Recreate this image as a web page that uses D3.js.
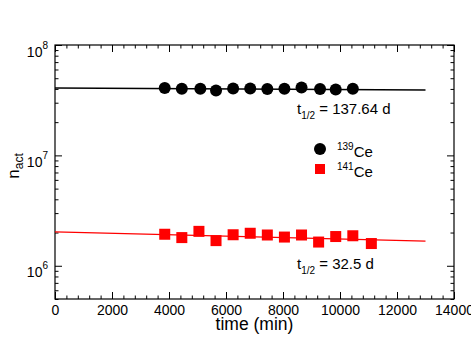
<!DOCTYPE html>
<html>
<head>
<meta charset="utf-8">
<title>Ce activity</title>
<script src="https://d3js.org/d3.v7.min.js"></script>
<style>
  body { margin: 0; background: #fff; }
  text { font-family: "Liberation Sans", Arial, sans-serif; fill: #000; }
</style>
</head>
<body>
<script>
// data
const ce139Time = [3850, 4450, 5100, 5650, 6250, 6850, 7450, 8050, 8650, 9300, 9850, 10450];
const ce139Act = [4.07e7, 4.01e7, 4.01e7, 3.88e7, 4.04e7, 4.04e7, 3.99e7, 4.01e7, 4.12e7, 3.99e7, 3.96e7, 4.01e7];
const ce141Time = [3850, 4450, 5050, 5650, 6250, 6850, 7450, 8050, 8650, 9250, 9850, 10450, 11100];
const ce141Act = [1.93e6, 1.80e6, 2.05e6, 1.69e6, 1.91e6, 1.97e6, 1.90e6, 1.82e6, 1.90e6, 1.64e6, 1.84e6, 1.87e6, 1.59e6];
// fitted decay lines (end points)
const fitTime = [0, 13000];
const fit139 = [4.08e7, 3.91e7];
const fit141 = [2.03e6, 1.67e6];
const xMajor = [0, 2000, 4000, 6000, 8000, 10000, 12000, 14000];
const yMajor = [1e6, 1e7, 1e8];

const W = 471, H = 354;
const pL = 55, pR = 454, pT = 45, pB = 299;

const svg = d3.select('body').append('svg')
  .attr('width', W).attr('height', H);

const x = d3.scaleLinear().domain([0, 14000]).range([pL, pR]);
const y = d3.scaleLog().domain([5e5, 1e8]).range([pB, pT]);

const xMinor = d3.range(0, 14001, 400).filter(v => v % 2000 !== 0);
const yMinor = [];
[1e5, 1e6, 1e7].forEach(d => { for (let k = 2; k <= 9; k++) { const v = k * d; if (v >= 5e5 && v < 1e8) yMinor.push(v); } });

function styleAxis(g) {
  g.select('.domain').remove();
  g.selectAll('line').attr('stroke', '#000').attr('stroke-width', 1);
}

// bottom axis
svg.append('g').attr('transform', `translate(0,${pB})`)
  .call(d3.axisBottom(x).tickValues(xMajor).tickSizeInner(-7).tickSizeOuter(0).tickPadding(6).tickFormat(d3.format('d')))
  .call(styleAxis)
  .call(g => g.selectAll('text').attr('font-size', 14).attr('font-family', '"Liberation Sans", Arial, sans-serif'));
svg.append('g').attr('transform', `translate(0,${pB})`)
  .call(d3.axisBottom(x).tickValues(xMinor).tickSizeInner(-3.5).tickSizeOuter(0).tickFormat(''))
  .call(styleAxis);
// top axis
svg.append('g').attr('transform', `translate(0,${pT})`)
  .call(d3.axisTop(x).tickValues(xMajor).tickSizeInner(-7).tickSizeOuter(0).tickFormat(''))
  .call(styleAxis);
svg.append('g').attr('transform', `translate(0,${pT})`)
  .call(d3.axisTop(x).tickValues(xMinor).tickSizeInner(-3.5).tickSizeOuter(0).tickFormat(''))
  .call(styleAxis);

// left axis
svg.append('g').attr('transform', `translate(${pL},0)`)
  .call(d3.axisLeft(y).tickValues(yMajor).tickSizeInner(-7).tickSizeOuter(0).tickPadding(7).tickFormat(d => d))
  .call(styleAxis)
  .call(g => g.selectAll('text').each(function (d) {
    const t = d3.select(this).text('').attr('font-size', 14).attr('dy', '0.8em')
      .attr('font-family', '"Liberation Sans", Arial, sans-serif');
    t.append('tspan').text('10');
    t.append('tspan').attr('font-size', 10).attr('dy', '-0.8em').text(Math.round(Math.log10(d)));
  }));
svg.append('g').attr('transform', `translate(${pL},0)`)
  .call(d3.axisLeft(y).tickValues(yMinor).tickSizeInner(-3.5).tickSizeOuter(0).tickFormat(''))
  .call(styleAxis);
// right axis
svg.append('g').attr('transform', `translate(${pR},0)`)
  .call(d3.axisRight(y).tickValues(yMajor).tickSizeInner(-7).tickSizeOuter(0).tickFormat(''))
  .call(styleAxis);
svg.append('g').attr('transform', `translate(${pR},0)`)
  .call(d3.axisRight(y).tickValues(yMinor).tickSizeInner(-3.5).tickSizeOuter(0).tickFormat(''))
  .call(styleAxis);

// frame
svg.append('rect')
  .attr('x', pL).attr('y', pT).attr('width', pR - pL).attr('height', pB - pT)
  .attr('fill', 'none').attr('stroke', '#000').attr('stroke-width', 1.2);

// fit lines
const line = d3.line().x(d => x(d[0])).y(d => y(d[1]));
svg.append('path').datum(d3.zip(fitTime, fit139)).attr('d', line)
  .attr('fill', 'none').attr('stroke', '#000').attr('stroke-width', 1.3);
svg.append('path').datum(d3.zip(fitTime, fit141)).attr('d', line)
  .attr('fill', 'none').attr('stroke', '#ff0000').attr('stroke-width', 1.3);

// data points
svg.append('g').selectAll('circle').data(d3.zip(ce139Time, ce139Act)).join('circle')
  .attr('cx', d => x(d[0])).attr('cy', d => y(d[1])).attr('r', 6).attr('fill', '#000');
const sq = 11;
svg.append('g').selectAll('rect').data(d3.zip(ce141Time, ce141Act)).join('rect')
  .attr('x', d => x(d[0]) - sq / 2).attr('y', d => y(d[1]) - sq / 2)
  .attr('width', sq).attr('height', sq).attr('fill', '#ff0000');

// half-life annotations
function halfLife(px, py, val) {
  const t = svg.append('text').attr('x', px).attr('y', py).attr('font-size', 15);
  t.append('tspan').text('t');
  t.append('tspan').attr('font-size', 10).attr('dy', 5).text('1/2');
  t.append('tspan').attr('dy', -5).text(' = ' + val);
}
halfLife(297, 114, '137.64 d');
halfLife(297, 269, '32.5 d');

// legend
svg.append('circle').attr('cx', 320).attr('cy', 149).attr('r', 6).attr('fill', '#000');
svg.append('rect').attr('x', 315).attr('y', 164).attr('width', 10).attr('height', 10).attr('fill', '#ff0000');
function legendLabel(py, mass) {
  const t = svg.append('text').attr('x', 337).attr('y', py).attr('font-size', 15);
  t.append('tspan').attr('font-size', 10).attr('dy', -7).text(mass);
  t.append('tspan').attr('dy', 7).text('Ce');
}
legendLabel(157, '139');
legendLabel(177, '141');

// axis titles
svg.append('text').attr('x', (pL + pR) / 2).attr('y', 330)
  .attr('text-anchor', 'middle').attr('font-size', 17.5).text('time (min)');
const yl = svg.append('text').attr('transform', 'translate(19,166) rotate(-90)')
  .attr('text-anchor', 'middle').attr('font-size', 17);
yl.append('tspan').text('n');
yl.append('tspan').attr('font-size', 12).attr('dy', 4).text('act');
</script>
</body>
</html>
